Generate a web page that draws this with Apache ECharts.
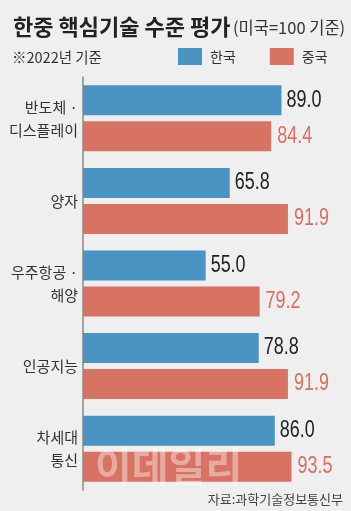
<!DOCTYPE html>
<html>
<head>
<meta charset="utf-8">
<script src="https://cdn.jsdelivr.net/npm/echarts@6/dist/echarts.min.js"></script>
<style>
  html, body { margin: 0; padding: 0; background: #efefef; }
  #chart { width: 351px; height: 511px; }
</style>
</head>
<body>
<div id="chart"></div>
<script>
// 데이터 (미국=100 기준)
var categories = ['반도체 ·\n디스플레이', '양자', '우주항공 ·\n해양', '인공지능', '차세대\n통신'];
var korea = [89.0, 65.8, 55.0, 78.8, 86.0];
var china = [84.4, 91.9, 79.2, 91.9, 93.5];
var seriesNames = ['한국', '중국'];

var blue = '#4a94c4';
var red = '#d87262';
var cjk = '"Noto Sans CJK KR", sans-serif';
var num = '"Liberation Sans", Arial, sans-serif';

var myChart = echarts.init(document.getElementById('chart'));

// 막대 끝 값 라벨 (좁은 글꼴 느낌을 위해 scaleX 사용)
function valueLabels(name, values, dy, dist, color) {
  return {
    name: name,
    type: 'custom',
    data: values.map(function (v, i) { return [v, i]; }),
    encode: { x: 0, y: 1 },
    renderItem: function (params, api) {
      var p = api.coord([api.value(0), api.value(1)]);
      return {
        type: 'text',
        x: p[0] + dist,
        y: p[1] + dy,
        scaleX: 0.78,
        style: {
          text: api.value(0).toFixed(1),
          font: '23px ' + num,
          fill: color,
          align: 'left',
          verticalAlign: 'middle'
        }
      };
    }
  };
}

var option = {
  backgroundColor: '#efefef',
  animation: false,
  legend: {
    left: 178,
    top: 48,
    padding: 0,
    icon: 'rect',
    itemWidth: 24,
    itemHeight: 17,
    itemGap: 34,
    textStyle: { fontFamily: cjk, fontSize: 14, color: '#333', padding: [0, 0, 0, 3] },
    data: seriesNames
  },
  grid: { left: 83, top: 77, width: 223, height: 413 },
  xAxis: { type: 'value', min: 0, max: 100, show: false },
  yAxis: {
    type: 'category',
    inverse: true,
    data: categories,
    axisLine: { lineStyle: { color: '#8a8a8a', width: 1.5 } },
    axisTick: { show: false },
    axisLabel: { fontFamily: cjk, fontSize: 15, color: '#333', margin: 5, lineHeight: 23 }
  },
  series: [
    {
      name: seriesNames[0],
      type: 'bar',
      data: korea,
      barWidth: 30,
      barGap: '20%',
      itemStyle: { color: blue }
    },
    {
      name: seriesNames[1],
      type: 'bar',
      data: china,
      barWidth: 30,
      itemStyle: { color: red }
    },
    valueLabels('한국값', korea, -18, 5, '#222'),
    valueLabels('중국값', china, 18, 6, '#d8705f')
  ],
  graphic: [
    {
      type: 'text', x: 13, y: 27,
      style: { text: '한중 핵심기술 수준 평가', font: 'bold 22px ' + cjk, fill: '#222', verticalAlign: 'middle' }
    },
    {
      type: 'text', x: 233, y: 28,
      style: { text: '(미국=100 기준)', font: '16.5px ' + cjk, fill: '#333', verticalAlign: 'middle' }
    },
    {
      type: 'text', x: 12, y: 57,
      style: { text: '※2022년 기준', font: '14.5px ' + cjk, fill: '#333', verticalAlign: 'middle' }
    },
    {
      type: 'text', right: 8, bottom: 5,
      style: { text: '자료:과학기술정보통신부', font: '13px ' + cjk, fill: '#444' }
    },
    {
      type: 'text', left: 95, top: 446, z: 100,
      style: { text: '이데일리', font: 'bold 40px ' + cjk, fill: 'rgba(255,255,255,0.4)' }
    }
  ]
};

myChart.setOption(option);
</script>
</body>
</html>
